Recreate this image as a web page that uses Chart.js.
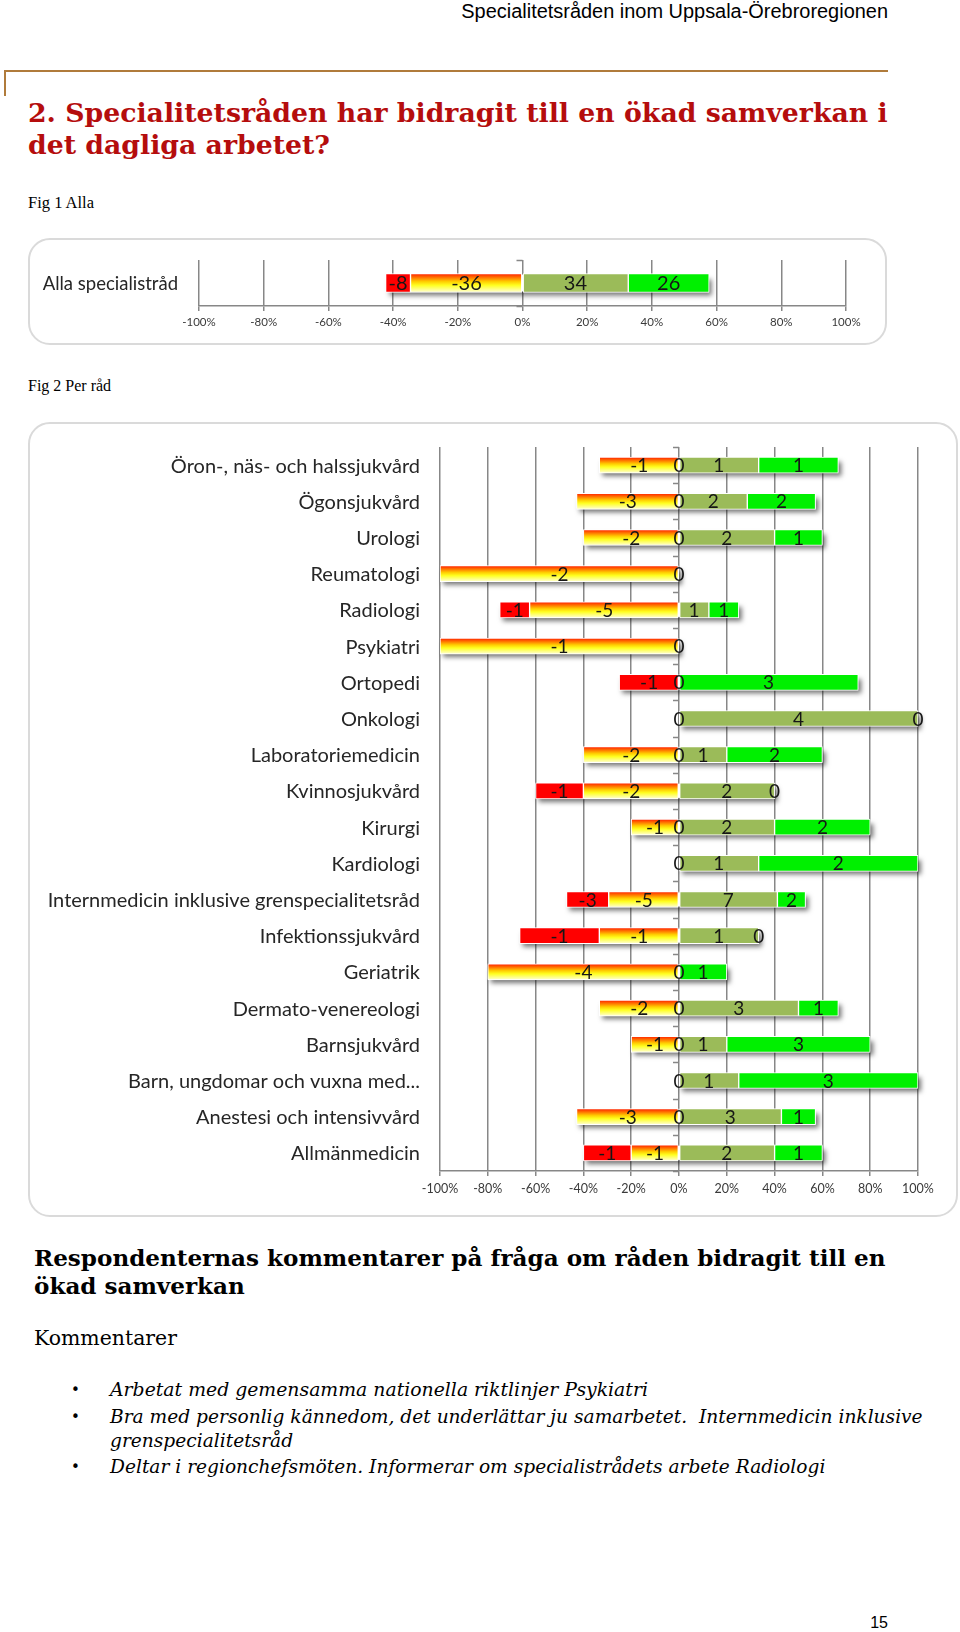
<!DOCTYPE html>
<html lang="sv">
<head>
<meta charset="utf-8">
<title>Specialitetsråden – ökad samverkan</title>
<script src="https://cdn.jsdelivr.net/npm/chart.js@4.4.1/dist/chart.umd.min.js"></script>
<style>
  html, body { margin: 0; padding: 0; background: #fff; }
  body { width: 960px; height: 1632px; position: relative; overflow: hidden; }
  .txt { position: absolute; white-space: nowrap; color: #000; }
  .sans { font-family: "Liberation Sans", Arial, sans-serif; }
  .serif { font-family: "DejaVu Serif", Georgia, serif; }
  .tserif { font-family: "Liberation Serif", "Times New Roman", serif; }
  .rubrik { color: #b50d0d; font-weight: bold; }
  .ram { position: absolute; box-sizing: border-box; border: 2px solid #dadada; border-radius: 22px; }
  canvas { position: absolute; }
  .linje { position: absolute; border-color: #b07b3b; border-style: solid; border-width: 0; }
  .punkt { font-family: "DejaVu Sans", sans-serif; font-size: 15px; line-height: 24px; }
</style>
</head>
<body>

<div class="txt sans" style="right:72px; top:2px; font-size:19px; line-height:19px;" data-w="427">Specialitetsråden inom Uppsala-Örebroregionen</div>
<div class="linje" style="left:4px; top:70px; width:884px; border-top-width:2px;"></div>
<div class="linje" style="left:4px; top:70px; height:26px; border-left-width:2px;"></div>

<div class="txt serif rubrik" style="left:28px; top:97px; font-size:23px; line-height:32px;" data-w="860">2. Specialitetsråden har bidragit till en ökad samverkan i<br>det dagliga arbetet?</div>

<div class="txt tserif" style="left:28px; top:193px; font-size:16px; line-height:20px;" data-w="66">Fig 1 Alla</div>
<div class="ram" style="left:28px; top:238px; width:859px; height:107px;"></div>
<canvas id="fig1" width="859" height="107" style="left:28px; top:238px;"></canvas>

<div class="txt tserif" style="left:28px; top:376px; font-size:16px; line-height:20px;">Fig 2 Per råd</div>
<div class="ram" style="left:28px; top:422px; width:930px; height:795px;"></div>
<canvas id="fig2" width="930" height="795" style="left:28px; top:422px;"></canvas>

<div class="txt serif" style="left:34px; top:1244px; font-size:21px; line-height:28px; font-weight:bold;" data-w="852">Respondenternas kommentarer på fråga om råden bidragit till en<br>ökad samverkan</div>
<div class="txt serif" style="left:34px; top:1326px; font-size:20px; line-height:24px;" data-w="143">Kommentarer</div>

<div class="txt punkt" style="left:71px; top:1378px;">•</div>
<div class="txt serif" style="left:110px; top:1378px; font-size:17px; line-height:24px; font-style:italic;" data-w="538">Arbetat med gemensamma nationella riktlinjer Psykiatri</div>
<div class="txt punkt" style="left:71px; top:1405px;">•</div>
<div class="txt serif" style="left:110px; top:1405px; font-size:17px; line-height:23.5px; font-style:italic;" data-w="813">Bra med personlig kännedom, det underlättar ju samarbetet.&nbsp; Internmedicin inklusive<br>grenspecialitetsråd</div>
<div class="txt punkt" style="left:71px; top:1455px;">•</div>
<div class="txt serif" style="left:110px; top:1455px; font-size:17px; line-height:24px; font-style:italic;" data-w="716">Deltar i regionchefsmöten. Informerar om specialistrådets arbete Radiologi</div>

<div class="txt sans" style="right:72px; top:1615px; font-size:16px; line-height:16px;">15</div>

<script>
// Fig 1 – alla specialistråd (antal svar)
const allaKategorier = ['Alla specialistråd'];
const allaInteAlls = [8];
const allaDelvisInte = [36];
const allaDelvis = [34];
const allaHelt = [26];
const allaNollVidAxeln = [null];

// Fig 2 – per råd (antal svar)
const radKategorier = [
  'Öron-, näs- och halssjukvård', 'Ögonsjukvård', 'Urologi', 'Reumatologi', 'Radiologi',
  'Psykiatri', 'Ortopedi', 'Onkologi', 'Laboratoriemedicin', 'Kvinnosjukvård',
  'Kirurgi', 'Kardiologi', 'Internmedicin inklusive grenspecialitetsråd', 'Infektionssjukvård', 'Geriatrik',
  'Dermato-venereologi', 'Barnsjukvård', 'Barn, ungdomar och vuxna med...', 'Anestesi och intensivvård', 'Allmänmedicin'
];
const radInteAlls   = [0, 0, 0, 0, 1, 0, 1, 0, 0, 1, 0, 0, 3, 1, 0, 0, 0, 0, 0, 1];
const radDelvisInte = [1, 3, 2, 2, 5, 1, 0, 0, 2, 2, 1, 0, 5, 1, 4, 2, 1, 0, 3, 1];
const radDelvis     = [1, 2, 2, 0, 1, 0, 0, 4, 1, 2, 2, 1, 7, 1, 0, 3, 1, 1, 3, 2];
const radHelt       = [1, 2, 1, 0, 1, 0, 3, 0, 2, 0, 2, 2, 2, 0, 1, 1, 3, 3, 1, 1];
// "0"-etiketten som står vid nollaxeln
const radNollVidAxeln = [0, 0, 0, null, null, null, 0, 0, 0, null, 0, 0, null, null, 0, 0, 0, 0, 0, null];

// x-axeln
const skalaMin = -100;
const skalaMax = 100;
const skalaSteg = 20;

const FARG_ROD = '#ff0000';
const FARG_OLIV = '#9bbb59';
const FARG_GRON = '#00f000';
const FARG_RUTNAT = '#878787';

// Passa in texter till uppmätt bredd
document.querySelectorAll('[data-w]').forEach(el => {
  const mal = parseFloat(el.dataset.w);
  const w = el.getBoundingClientRect().width;
  const fs = parseFloat(getComputedStyle(el).fontSize);
  if (w > 0) el.style.fontSize = (fs * mal / w).toFixed(2) + 'px';
});

function gradient(ctx, tjocklek) {
  const chart = ctx.chart;
  const y = chart.scales && chart.scales.y;
  if (!y || ctx.type !== 'data') return '#ffc000';
  const mitt = y.getPixelForValue(ctx.dataIndex);
  if (!isFinite(mitt)) return '#ffc000';
  const g = chart.ctx.createLinearGradient(0, mitt - tjocklek / 2, 0, mitt + tjocklek / 2);
  g.addColorStop(0, '#ff1a00');
  g.addColorStop(0.2, '#ff7000');
  g.addColorStop(0.42, '#ffcc00');
  g.addColorStop(0.62, '#ffff20');
  g.addColorStop(1, '#ffffd8');
  return g;
}

// Skugga under hela stapeln + små streck på nollaxeln
const skuggPlugin = {
  id: 'skugga',
  beforeDatasetsDraw(chart, args, opts) {
    const { ctx, scales: { x, y } } = chart;
    ctx.save();
    const x0 = x.getPixelForValue(0);
    ctx.strokeStyle = FARG_RUTNAT;
    ctx.lineWidth = 1.5;
    for (let k = 0; k <= opts.rader.length; k++) {
      const yy = Math.round(y.getPixelForValue(k - 0.5)) + 0.5;
      ctx.beginPath();
      ctx.moveTo(x0 - 6, yy);
      ctx.lineTo(x0, yy);
      ctx.stroke();
    }
    ctx.shadowColor = 'rgba(0,0,0,0.55)';
    ctx.shadowBlur = 5;
    ctx.shadowOffsetX = 3;
    ctx.shadowOffsetY = 4;
    ctx.fillStyle = '#ffffff';
    opts.rader.forEach((r, i) => {
      const neg = -(r.inteAlls + r.delvisInte) / r.total * 100;
      const pos = (r.delvis + r.helt) / r.total * 100;
      const xa = x.getPixelForValue(neg), xb = x.getPixelForValue(pos);
      const yc = y.getPixelForValue(i);
      ctx.fillRect(xa, yc - opts.stapel / 2 + 1, xb - xa, opts.stapel - 2);
    });
    ctx.restore();
  }
};

// Värdeetiketter (antal) mitt i varje segment
const etikettPlugin = {
  id: 'etiketter',
  afterDatasetsDraw(chart, args, opts) {
    const { ctx, scales: { x, y } } = chart;
    ctx.save();
    ctx.font = opts.font;
    ctx.fillStyle = '#161616';
    ctx.textAlign = 'center';
    ctx.textBaseline = 'middle';
    const skriv = (txt, v, yc) => ctx.fillText(txt, x.getPixelForValue(v), yc);
    opts.rader.forEach((r, i) => {
      const yc = y.getPixelForValue(i) + opts.dy;
      const a = r.delvisInte / r.total * 100;
      const b = r.inteAlls / r.total * 100;
      const c = r.delvis / r.total * 100;
      const d = r.helt / r.total * 100;
      if (r.delvisInte) skriv('-' + r.delvisInte, -a / 2, yc);
      if (r.inteAlls) skriv('-' + r.inteAlls, -a - b / 2, yc);
      if (r.noll !== null) skriv(String(r.noll), 0, yc);
      if (r.delvis) skriv(String(r.delvis), c / 2, yc);
      skriv(String(r.helt), c + d / 2, yc);
    });
    ctx.restore();
  }
};

function byggDiagram(id, kategorier, inteAlls, delvisInte, delvis, helt, noll, s) {
  const rader = kategorier.map((_, i) => ({
    inteAlls: inteAlls[i], delvisInte: delvisInte[i], delvis: delvis[i], helt: helt[i], noll: noll[i],
    total: inteAlls[i] + delvisInte[i] + delvis[i] + helt[i]
  }));
  const andel = (arr, tecken) => rader.map((r, i) => arr[i] ? tecken * arr[i] / r.total * 100 : null);
  const gemensamt = { barThickness: s.stapel, borderColor: '#ffffff', borderWidth: 1, borderSkipped: false };

  return new Chart(document.getElementById(id), {
    type: 'bar',
    data: {
      labels: kategorier,
      datasets: [
        { label: 'Instämmer delvis inte', data: andel(delvisInte, -1), backgroundColor: c => gradient(c, s.stapel), ...gemensamt },
        { label: 'Instämmer inte alls', data: andel(inteAlls, -1), backgroundColor: FARG_ROD, ...gemensamt },
        { label: 'Instämmer delvis', data: andel(delvis, 1), backgroundColor: FARG_OLIV, ...gemensamt },
        { label: 'Instämmer helt', data: andel(helt, 1), backgroundColor: FARG_GRON, ...gemensamt }
      ]
    },
    options: {
      indexAxis: 'y',
      responsive: false,
      animation: false,
      events: [],
      layout: { padding: { top: s.top, right: s.right, bottom: 0, left: 0 } },
      plugins: {
        legend: { display: false },
        tooltip: { enabled: false },
        skugga: { rader, stapel: s.stapel },
        etiketter: { rader, font: s.etikettFont, dy: s.etikettDy }
      },
      scales: {
        x: {
          stacked: true,
          min: skalaMin,
          max: skalaMax,
          ticks: {
            stepSize: skalaSteg,
            callback: v => v + '%',
            font: { family: 'Lato', size: s.tickStorlek },
            color: '#3a3a3a',
            padding: s.tickPadding,
            maxRotation: 0,
            autoSkip: false
          },
          grid: { color: FARG_RUTNAT, lineWidth: 1.5, tickLength: 5, drawTicks: true },
          border: { display: true, color: FARG_RUTNAT, width: 1.5 },
          afterFit: sc => { sc.height = s.xHojd; sc.paddingLeft = 0; sc.paddingRight = 0; }
        },
        y: {
          stacked: true,
          ticks: {
            font: { family: 'Lato', size: s.katStorlek },
            color: '#262626',
            padding: s.katPadding,
            labelOffset: s.katDy,
            autoSkip: false
          },
          grid: { display: false, drawTicks: false },
          border: { display: false },
          afterFit: sc => { sc.width = s.yBredd; sc.paddingTop = 0; sc.paddingBottom = 0; }
        }
      }
    },
    plugins: [skuggPlugin, etikettPlugin]
  });
}

byggDiagram('fig1', allaKategorier, allaInteAlls, allaDelvisInte, allaDelvis, allaHelt, allaNollVidAxeln, {
  stapel: 19, top: 22, right: 41, xHojd: 39, yBredd: 171,
  katStorlek: 18.5, katPadding: 21, katDy: 1,
  tickStorlek: 11.5, tickPadding: 4,
  etikettFont: '20px Lato', etikettDy: 1
});

byggDiagram('fig2', radKategorier, radInteAlls, radDelvisInte, radDelvis, radHelt, radNollVidAxeln, {
  stapel: 16, top: 25, right: 40, xHojd: 46, yBredd: 412,
  katStorlek: 20, katPadding: 20, katDy: 1,
  tickStorlek: 12.5, tickPadding: 5,
  etikettFont: '19px Lato', etikettDy: 1
});
</script>
</body>
</html>
